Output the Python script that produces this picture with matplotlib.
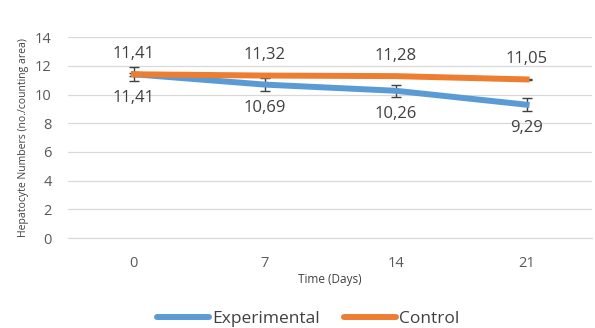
import numpy as np
import matplotlib
matplotlib.use('Agg')
import matplotlib.pyplot as plt
from matplotlib.lines import Line2D

plt.rcParams['font.family'] = ['Open Sans', 'DejaVu Sans']

days = ['0', '7', '14', '21']
experimental = [11.41, 10.69, 10.26, 9.29]
control = [11.41, 11.32, 11.28, 11.05]
exp_err = [0.48, 0.45, 0.42, 0.45]
ctl_err = [0.1, 0.1, 0.08, 0.05]

blue = '#5B9BD5'
orange = '#ED7D31'

fig = plt.figure(figsize=(5.95, 3.28), dpi=100)
ax = fig.add_axes([0.115, 0.274, 0.88, 0.613])
x = np.arange(len(days))

ax.errorbar(x, experimental, yerr=exp_err, color=blue, lw=4.3, ecolor='#404040',
            elinewidth=1, capsize=3.5, capthick=1, zorder=3)
ax.errorbar(x, control, yerr=ctl_err, color=orange, lw=4.3, ecolor='#404040',
            elinewidth=1, capsize=3.5, capthick=1, zorder=4)

for i in range(len(days)):
    ax.annotate(('%.2f' % control[i]).replace('.', ','), (x[i], control[i]),
                xytext=(0, 14.5), textcoords='offset points', ha='center', va='center',
                fontsize=12, color='#404040')
    ax.annotate(('%.2f' % experimental[i]).replace('.', ','), (x[i], experimental[i]),
                xytext=(0, -17), textcoords='offset points', ha='center', va='center',
                fontsize=12, color='#404040')

ax.set_xlim(-0.5, 3.5)
ax.set_ylim(0, 14)
ax.set_yticks(range(0, 15, 2))
ax.set_xticks(x)
ax.set_xticklabels(days)
ax.grid(axis='y', color='#d9d9d9', lw=0.9)
ax.set_axisbelow(True)
for s in ['top', 'right', 'left']:
    ax.spines[s].set_visible(False)
ax.spines['bottom'].set_color('#d9d9d9')
ax.tick_params(length=0, labelsize=10.5, colors='#595959')
ax.tick_params(axis='x', pad=13)
ax.tick_params(axis='y', pad=12)
ax.set_xlabel('Time (Days)', fontsize=8.5, color='#404040', labelpad=1)
ax.set_ylabel('Hepatocyte Numbers (no./counting area)', fontsize=7.5, color='#404040', labelpad=4)

handles = [Line2D([], [], color=blue, lw=4.3, solid_capstyle='round'),
           Line2D([], [], color=orange, lw=4.3, solid_capstyle='round')]
fig.legend(handles, ['Experimental', 'Control'], loc='center', bbox_to_anchor=(0.518, 0.027),
           ncol=2, frameon=False, fontsize=12.5, handlelength=3.0, handletextpad=0.15,
           columnspacing=1.4, labelcolor='#404040', borderpad=0)

fig.savefig('out.png', dpi=100)
